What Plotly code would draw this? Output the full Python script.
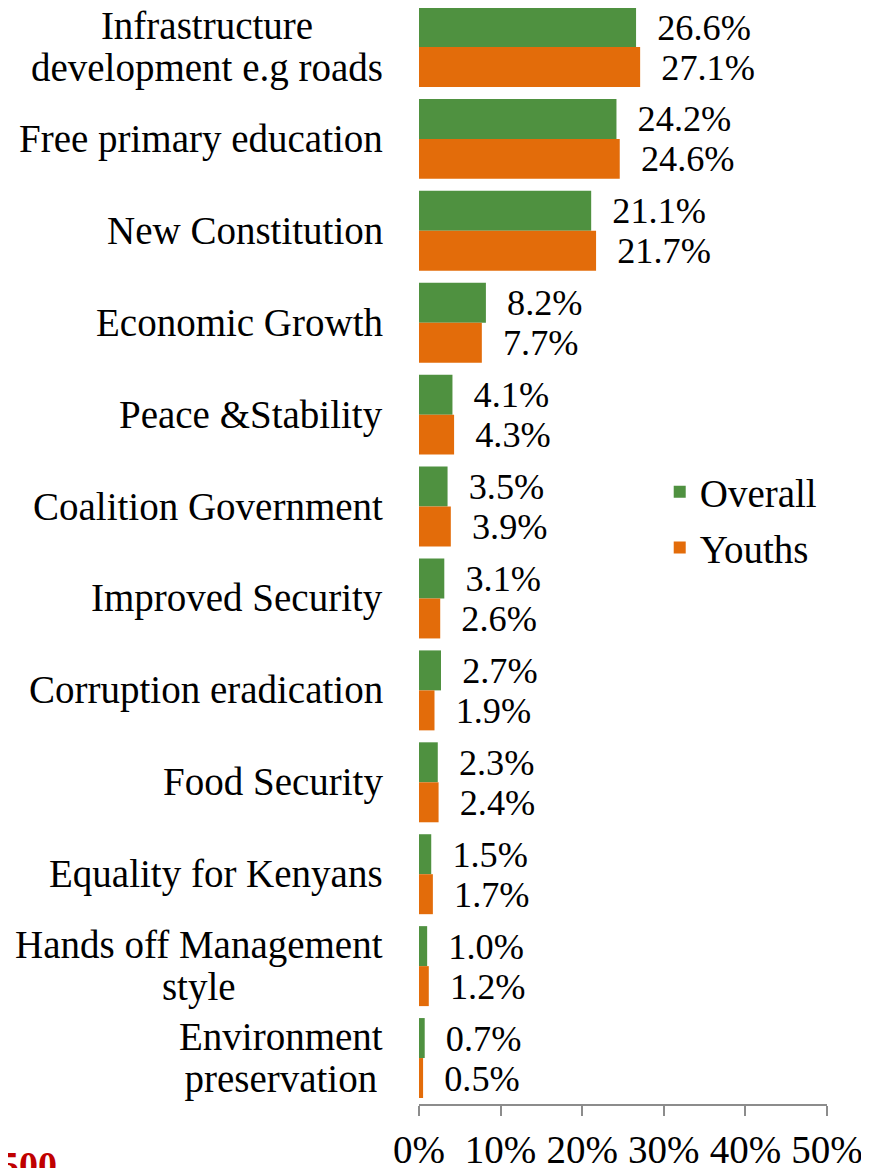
import plotly.graph_objects as go

# categories top to bottom, as in the chart
categories = [
    "Infrastructure<br>development e.g roads",
    "Free primary education",
    "New Constitution",
    "Economic Growth",
    "Peace &Stability",
    "Coalition Government",
    "Improved Security",
    "Corruption eradication",
    "Food Security",
    "Equality for Kenyans",
    "Hands off Management<br>style",
    "Environment<br>preservation",
]
overall = [26.6, 24.2, 21.1, 8.2, 4.1, 3.5, 3.1, 2.7, 2.3, 1.5, 1.0, 0.7]
youths = [27.1, 24.6, 21.7, 7.7, 4.3, 3.9, 2.6, 1.9, 2.4, 1.7, 1.2, 0.5]
tick_vals = [0, 10, 20, 30, 40, 50]
tick_text = ["0%", "10%", "20%", "30%", "40%", "50%"]

FONT = "Liberation Serif"
FS = 39
GREEN = "#4f9140"
ORANGE = "#E36C0A"

fig = go.Figure()
fig.add_trace(go.Bar(
    y=categories, x=overall, name="Overall", orientation="h", legendgroup="a",
    marker=dict(color=GREEN, line=dict(width=0)),
    text=["\u2002%.1f%%" % v for v in overall], textposition="outside",
    textfont=dict(family=FONT, size=FS, color="black"), cliponaxis=False,
))
fig.add_trace(go.Bar(
    y=categories, x=youths, name="Youths", orientation="h", legendgroup="b",
    marker=dict(color=ORANGE, line=dict(width=0)),
    text=["\u2002%.1f%%" % v for v in youths], textposition="outside",
    textfont=dict(family=FONT, size=FS, color="black"), cliponaxis=False,
))

# category labels: lines centred, block right-aligned next to the axis.
# line spacing follows the annotation font size (1.3em), so the base size is
# smaller and each line is enlarged with a span to get the tighter spacing
for c in categories:
    txt = "<br>".join("<span style='font-size:%dpx'>%s</span>" % (FS, l)
                      for l in c.split("<br>"))
    fig.add_annotation(
        x=0, xref="paper", xanchor="right", xshift=-34,
        y=c, yref="y", text=txt, showarrow=False, align="center",
        font=dict(family=FONT, size=32, color="black"),
    )

fig.add_annotation(
    x=0, xref="paper", xanchor="left", xshift=-421,
    y=0, yref="paper", yanchor="top", yshift=-38,
    text="<b>500</b>", showarrow=False,
    font=dict(family=FONT, size=38, color="#C00000"),
)

fig.update_layout(
    width=861, height=1160,
    margin=dict(l=411, r=42, t=0, b=64, autoexpand=False),
    paper_bgcolor="white", plot_bgcolor="white",
    barmode="group", bargap=0.13, bargroupgap=0,
    font=dict(family=FONT, size=FS, color="black"),
    showlegend=True,
    legend=dict(x=0.59, y=0.533, xanchor="left", yanchor="middle",
                font=dict(family=FONT, size=FS), traceorder="grouped",
                tracegroupgap=2, bgcolor="rgba(0,0,0,0)"),
    uniformtext=dict(mode=False),
)
fig.update_xaxes(
    range=[0, 50], tickvals=tick_vals, ticktext=tick_text,
    showgrid=False, zeroline=False, showline=True, linecolor="#8c8c8c", linewidth=2,
    ticks="outside", ticklen=10, tickwidth=2, tickcolor="#8c8c8c",
    ticklabelstandoff=0, tickfont=dict(family=FONT, size=FS, color="black"),
    automargin=False,
)
fig.update_yaxes(
    range=[11.5, -0.424], showticklabels=False, showgrid=False,
    zeroline=False, showline=False, ticks="", automargin=False,
)

fig.write_html("out.html")
